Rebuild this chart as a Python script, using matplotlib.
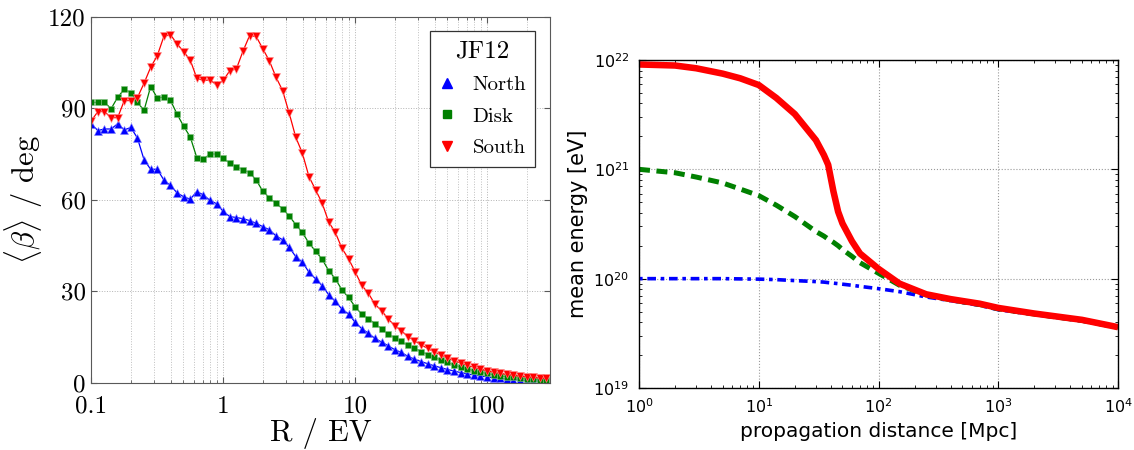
import matplotlib
matplotlib.use("Agg")
import matplotlib.pyplot as plt
from matplotlib.lines import Line2D
from matplotlib.ticker import LogLocator, NullFormatter
import numpy as np

# rigidity sampling: 20 points per decade from 0.1 EV
rigidity = np.logspace(-1, 2.45, 70)

north = [84.8, 82.7, 83.2, 83.2, 84.9, 82.9, 83.7, 80.2, 73.1, 70.0, 70.0, 66.5, 64.7, 62.3,
         61.0, 60.2, 62.7, 61.6, 59.8, 58.7, 56.2, 54.5, 54.2, 53.8, 53.2, 52.3, 51.2, 50.2,
         48.2, 46.9, 44.4, 41.4, 39.6, 36.3, 34.1, 31.9, 28.9, 26.7, 24.2, 22.6, 19.9, 17.8,
         16.3, 14.6, 13.4, 12.2, 10.9, 10.0, 8.7, 7.8, 7.0, 6.3, 5.6, 5.0, 4.4, 3.9, 3.4,
         3.0, 2.6, 2.3, 2.0, 1.7, 1.5, 1.3, 1.1, 1.0, 0.8, 0.7, 0.6, 0.5]
disk = [91.9, 91.9, 92.0, 89.8, 93.6, 96.2, 95.1, 91.9, 89.3, 97.1, 93.4, 93.6, 92.6, 88.1,
        84.1, 80.6, 73.8, 73.3, 75.0, 75.0, 73.6, 72.0, 70.9, 69.8, 68.9, 66.5, 62.8, 60.7,
        58.8, 57.1, 54.7, 51.9, 49.3, 45.8, 43.2, 40.5, 36.8, 34.1, 30.5, 28.0, 25.0, 22.5,
        21.1, 19.4, 17.8, 16.0, 14.8, 13.6, 12.3, 11.3, 10.3, 9.3, 8.4, 7.5, 6.7, 5.9, 5.2,
        4.6, 4.0, 3.5, 3.1, 2.7, 2.3, 2.0, 1.8, 1.5, 1.3, 1.2, 1.1, 1.0]
south = [85.9, 88.9, 88.9, 86.9, 86.9, 92.5, 92.5, 93.5, 98.2, 103.4, 107.2, 113.5, 114.1,
         111.1, 108.5, 105.8, 99.8, 99.1, 99.3, 97.6, 99.1, 102.3, 102.9, 108.7, 113.8, 113.5,
         109.5, 105.5, 100.2, 95.8, 88.4, 80.5, 75.3, 67.6, 63.3, 58.9, 52.7, 49.3, 44.1, 40.7,
         36.4, 32.0, 29.4, 25.8, 23.7, 21.0, 18.8, 17.1, 15.2, 13.8, 12.5, 11.3, 10.2, 9.2,
         8.2, 7.3, 6.5, 5.8, 5.1, 4.5, 4.0, 3.5, 3.1, 2.8, 2.5, 2.2, 2.0, 1.8, 1.6, 1.5]

# mean energy vs propagation distance
distance = [1, 2, 3, 5, 7, 10, 14, 20, 30, 35, 38, 42, 46, 50, 60, 70, 100, 150, 250, 400,
            700, 1000, 2000, 5000, 10000]
energy_high = [9.1e21, 8.9e21, 8.4e21, 7.5e21, 6.8e21, 5.9e21, 4.5e21, 3.2e21, 1.85e21,
               1.35e21, 1.1e21, 6.3e20, 4.1e20, 3.2e20, 2.2e20, 1.7e20, 1.23e20, 9.0e19,
               7.2e19, 6.5e19, 5.9e19, 5.4e19, 4.8e19, 4.2e19, 3.6e19]
energy_mid = [1.0e21, 9.3e20, 8.5e20, 7.5e20, 6.6e20, 5.75e20, 4.7e20, 3.7e20, 2.7e20,
              2.45e20, 2.3e20, 2.15e20, 2.0e20, 1.85e20, 1.6e20, 1.4e20, 1.12e20, 8.7e19,
              7.1e19, 6.4e19, 5.8e19, 5.3e19, 4.75e19, 4.15e19, 3.6e19]
energy_low = [1.0e20, 1.0e20, 1.0e20, 1.0e20, 0.995e20, 0.99e20, 0.98e20, 0.96e20, 0.94e20,
              0.93e20, 0.92e20, 0.91e20, 0.90e20, 0.89e20, 0.87e20, 0.85e20, 0.81e20,
              0.76e20, 0.68e20, 0.63e20, 0.57e20, 0.52e20, 0.47e20, 0.41e20, 0.355e20]

fig = plt.figure(figsize=(11.34, 4.5), dpi=100)

# ---- left: deflection vs rigidity ----
ax1 = fig.add_axes([0.0805, 0.149, 0.4045, 0.814])
ax1.plot(rigidity, north, '-^', color='#0000ff', lw=0.9, ms=5.5, mec='#8080ff', mew=0.4)
ax1.plot(rigidity, disk, '-s', color='#008000', lw=0.9, ms=5, mec='#80c080', mew=0.4)
ax1.plot(rigidity, south, '-v', color='#ff0000', lw=0.9, ms=5.5, mec='#ff9090', mew=0.4)
ax1.set_xscale('log')
ax1.set_xlim(0.1, 300)
ax1.set_ylim(0, 120)
ax1.xaxis.set_minor_locator(LogLocator(base=10, subs=np.arange(2, 10)))
ax1.xaxis.set_minor_formatter(NullFormatter())
ax1.set_xticks([0.1, 1, 10, 100], ['0.1', '1', '10', '100'], fontfamily='cmr10', fontsize=18)
ax1.set_yticks([0, 30, 60, 90, 120], ['0', '30', '60', '90', '120'], fontfamily='cmr10',
               fontsize=18)
ax1.tick_params(which='both', direction='in', top=True, right=True, color='0.35')
ax1.tick_params(which='major', length=4)
ax1.tick_params(axis='x', which='major', pad=9)
ax1.tick_params(axis='y', which='major', pad=4)
ax1.tick_params(which='minor', length=2.5)
ax1.grid(True, which='major', color='0.7', ls=':', lw=0.7)
ax1.grid(True, which='minor', axis='x', color='0.75', ls=':', lw=0.7)
for sp in ax1.spines.values():
    sp.set_color('0.35')
ax1.set_xlabel('R / EV', fontfamily='cmr10', fontsize=22, labelpad=0)
ax1.set_ylabel(r'$\langle\beta\rangle$ / deg', fontfamily='cmr10', math_fontfamily='cm',
               fontsize=22, labelpad=2)

handles = [Line2D([], [], marker='^', ls='none', color='#0000ff', ms=7),
           Line2D([], [], marker='s', ls='none', color='#008000', ms=6),
           Line2D([], [], marker='v', ls='none', color='#ff0000', ms=7)]
leg = ax1.legend(handles, ['North', 'Disk', 'South'], loc='upper right', title='JF12',
                 prop={'family': 'cmr10', 'size': 15},
                 title_fontproperties={'family': 'cmr10', 'size': 18},
                 fancybox=False, edgecolor='0.2', framealpha=1, handlelength=0.8,
                 handletextpad=0.8, borderaxespad=0.7, labelspacing=0.62, borderpad=0.45)
leg.get_frame().set_linewidth(0.9)

# ---- right: mean energy vs distance ----
ax2 = fig.add_axes([0.5635, 0.1378, 0.4224, 0.7289])
ax2.plot(distance, energy_low, color='#0000ff', lw=2.6, dashes=(1.0, 1.3, 2.4, 1.3))
ax2.plot(distance, energy_mid, color='#008000', lw=3.6, dashes=(2.2, 1.3))
ax2.plot(distance, energy_high, color='#ff0000', lw=4.7, solid_capstyle='butt')
ax2.set_xscale('log')
ax2.set_yscale('log')
ax2.set_xlim(1, 1e4)
ax2.set_ylim(1e19, 1e22)
ax2.tick_params(which='both', direction='in', top=True, right=True, labelsize=11.5)
ax2.tick_params(which='major', length=5, pad=7)
ax2.tick_params(which='minor', length=2.5)
ax2.grid(True, which='major', color='0.6', ls=':', lw=0.8)
for sp in ax2.spines.values():
    sp.set_linewidth(1.0)
ax2.set_xlabel('propagation distance [Mpc]', fontsize=14.5)
ax2.set_ylabel('mean energy [eV]', fontsize=15)

fig.savefig('out.png', dpi=100)
